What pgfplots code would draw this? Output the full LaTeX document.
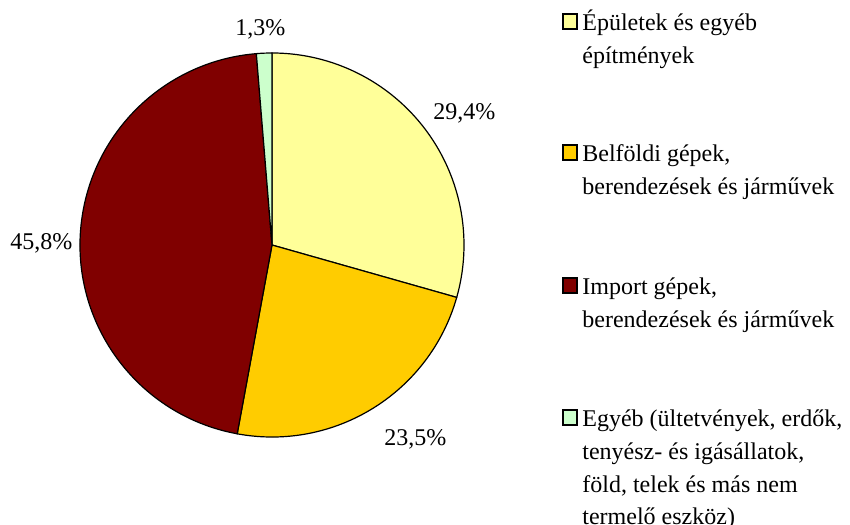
\documentclass[border=0pt]{standalone}
\usepackage{pgfplots}
\pgfplotsset{compat=1.18}
\usepackage{pgfplotstable}
\usepackage{fontspec}
\setmainfont{Liberation Serif}
\definecolor{c1}{HTML}{FFFF99}
\definecolor{c2}{HTML}{FFCC00}
\definecolor{c3}{HTML}{800000}
\definecolor{c4}{HTML}{CCFFCC}
\pgfplotstableread{
share
29.4
23.5
45.8
1.3
}\piedata
\begin{document}%
\pgfplotstablegetelem{0}{share}\of\piedata\edef\vA{\pgfplotsretval}%
\pgfplotstablegetelem{1}{share}\of\piedata\edef\vB{\pgfplotsretval}%
\pgfplotstablegetelem{2}{share}\of\piedata\edef\vC{\pgfplotsretval}%
\pgfplotstablegetelem{3}{share}\of\piedata\edef\vD{\pgfplotsretval}%
\pgfmathsetmacro\aA{90}%
\pgfmathsetmacro\aB{\aA-3.6*\vA}%
\pgfmathsetmacro\aC{\aB-3.6*\vB}%
\pgfmathsetmacro\aD{\aC-3.6*\vC}%
\pgfmathsetmacro\aE{\aD-3.6*\vD}%
\begin{tikzpicture}[x=1pt,y=1pt,font=\fontsize{12pt}{14pt}\selectfont]
\path[use as bounding box] (0,0) rectangle (425,262);
\begin{axis}[
  at={(136pt,139.5pt)}, anchor=center,
  x=96pt, y=96pt,
  xmin=-1, xmax=1, ymin=-1, ymax=1,
  hide axis, clip=false,
]
\addplot[draw=none] coordinates {(-1,-1) (1,1)};
\filldraw[fill=c1, draw=black, line width=0.6pt] (axis cs:0,0) -- ++(\aA:96pt) arc[start angle=\aA, end angle=\aB, radius=96pt] -- cycle;
\filldraw[fill=c2, draw=black, line width=0.6pt] (axis cs:0,0) -- ++(\aB:96pt) arc[start angle=\aB, end angle=\aC, radius=96pt] -- cycle;
\filldraw[fill=c3, draw=black, line width=0.6pt] (axis cs:0,0) -- ++(\aC:96pt) arc[start angle=\aC, end angle=\aD, radius=96pt] -- cycle;
\filldraw[fill=c4, draw=black, line width=0.6pt] (axis cs:0,0) -- ++(\aD:96pt) arc[start angle=\aD, end angle=\aE, radius=96pt] -- cycle;
\end{axis}
% percentage labels
\node[anchor=base west, inner sep=0] at (117.5,244) {1,3\%};
\node[anchor=base west, inner sep=0] at (216.5,202) {29,4\%};
\node[anchor=base west, inner sep=0] at (192,39) {23,5\%};
\node[anchor=base west, inner sep=0] at (5,137) {45,8\%};
% legend
\def\lx{291}
\filldraw[fill=c1, draw=black, line width=0.6pt] (281.5,247.5) rectangle (288.5,255);
\node[anchor=base west, inner sep=0] at (\lx,246.5) {Épületek és egyéb};
\node[anchor=base west, inner sep=0] at (\lx,230.25) {építmények};
\filldraw[fill=c2, draw=black, line width=0.6pt] (281.5,182) rectangle (288.5,189.5);
\node[anchor=base west, inner sep=0] at (\lx,181) {Belföldi gépek,};
\node[anchor=base west, inner sep=0] at (\lx,164.75) {berendezések és járművek};
\filldraw[fill=c3, draw=black, line width=0.6pt] (281.5,115.5) rectangle (288.5,123);
\node[anchor=base west, inner sep=0] at (\lx,114.5) {Import gépek,};
\node[anchor=base west, inner sep=0] at (\lx,98.25) {berendezések és járművek};
\filldraw[fill=c4, draw=black, line width=0.6pt] (281.5,49.5) rectangle (288.5,57);
\node[anchor=base west, inner sep=0] at (\lx,48.5) {Egyéb (ültetvények, erdők,};
\node[anchor=base west, inner sep=0] at (\lx,32.25) {tenyész- és igásállatok,};
\node[anchor=base west, inner sep=0] at (\lx,16) {föld, telek és más nem};
\node[anchor=base west, inner sep=0] at (\lx,-0.25) {termelő eszköz)};
\end{tikzpicture}
\end{document}
